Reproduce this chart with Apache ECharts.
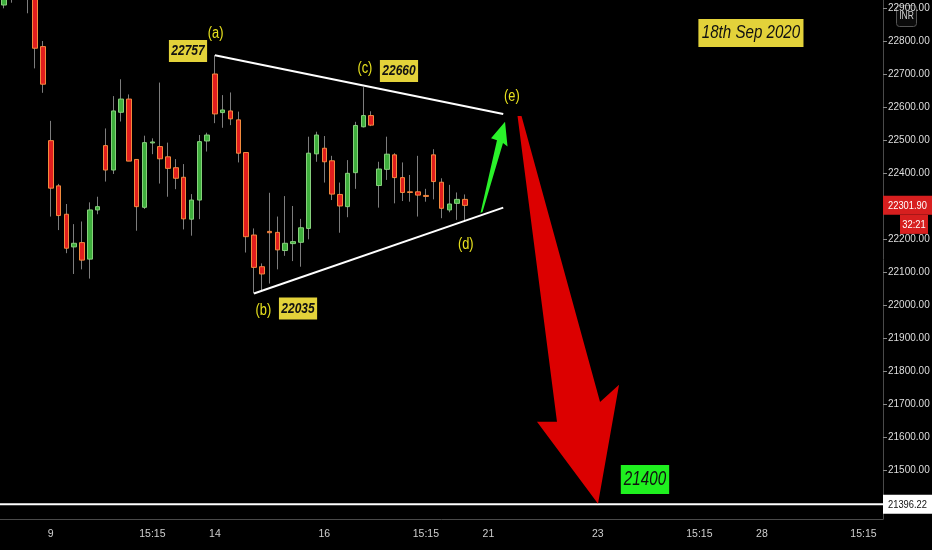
<!DOCTYPE html>
<html><head><meta charset="utf-8">
<script src="https://cdn.jsdelivr.net/npm/echarts@6/dist/echarts.min.js"></script>
<style>html,body{margin:0;padding:0;background:#000}#c{width:932px;height:550px}</style>
</head><body><div id="c"></div>
<script>
// ---- time slots (hourly candles, 7 per session day) ----
const days = ['08','09','10','11','14','15','16','17','18','21','22','23','24','25','28','29','30'];
const sessions = ['09:15','10:15','11:15','12:15','13:15','14:15','15:15'];
const firstSlot = '08 10:15';
const lastSlot = '30 10:15';

// ---- x tick labels ----
const tickSlots = ['09 09:15','10 15:15','14 09:15','16 09:15','17 15:15','21 09:15','23 09:15','24 15:15','28 09:15','29 15:15'];
const tickTexts = ['9','15:15','14','16','15:15','21','23','15:15','28','15:15'];

// ---- price ticks ----
const priceTicks = [21500,21600,21700,21800,21900,22000,22100,22200,22300,22400,22500,22600,22700,22800,22900];

// ---- OHLC (from Sep 8 10:15 to Sep 18 13:15) ----
const opens = [22909,22970,23010,22985,22945,22783,
  22498,22361,22275,22176,22189,22139,22288,
  22483,22409,22584,22624,22441,22296,22491,
  22480,22449,22416,22387,22260,22318,22497,
  22700,22583,22588,22561,22462,22212,22116,
  22223,22220,22165,22186,22190,22232,22458,
  22475,22437,22335,22298,22401,22540,22574,
  22362,22411,22455,22386,22343,22343,22332,
  22455,22372,22288,22308,22320];
const closes = [22970,23010,22985,22945,22778,22669,
  22354,22271,22172,22187,22136,22288,22298,
  22409,22588,22624,22436,22298,22492,22494,
  22443,22414,22384,22261,22318,22495,22515,
  22579,22591,22564,22460,22207,22114,22094,
  22219,22167,22187,22192,22234,22460,22515,
  22434,22336,22300,22399,22544,22574,22545,
  22412,22457,22386,22341,22341,22333,22329,
  22374,22293,22306,22320,22301.9];
const lows = [22899,22916,22950,22884,22717,22643,
  22268,22227,22157,22094,22108,22080,22275,
  22374,22397,22556,22436,22225,22291,22457,
  22368,22328,22351,22229,22210,22260,22465,
  22551,22537,22545,22432,22159,22035,22040,
  22065,22108,22149,22133,22116,22199,22434,
  22371,22318,22219,22266,22352,22538,22542,
  22295,22379,22308,22315,22313,22268,22313,
  22320,22263,22281,22258,22253];
const highs = [22990,23030,23025,23000,22960,22800,
  22558,22367,22306,22245,22253,22311,22328,
  22535,22633,22684,22638,22441,22513,22505,
  22674,22492,22442,22427,22336,22515,22522,
  22757,22636,22644,22586,22462,22232,22126,
  22340,22268,22330,22300,22261,22510,22525,
  22512,22452,22371,22439,22555,22660,22587,
  22434,22510,22460,22432,22394,22452,22352,
  22472,22384,22364,22341,22335];

// ---- drawings (x in slot units, 0 = Sep 9 09:15; y in price) ----
const trendUpper = [[21, 22757], [57.9, 22579]];
const trendLower = [[26, 22035], [57.9, 22295]];
const greenArrow = [[54.99,22279],[57.10,22499],[56.34,22505],[58.13,22555],[58.45,22480],[57.87,22491],[55.25,22282]];
const redArrow = [[59.73,22573],[60.24,22573],[70.29,21706],[72.72,21758],[70.03,21398],[62.22,21646],[64.78,21646]];
const waveNames = ['(a)','(b)','(c)','(d)','(e)'];
const waveAt = [[21.1,22821],[27.2,21982],[40.2,22715],[53.1,22182],[59.0,22633]];
const pivotTexts = ['22757','22035','22660'];
const pivotAt = [[17.56,22770],[31.64,21989],[44.56,22709]];
const dateText = '18th Sep 2020';
const dateAt = [89.6, 22824];
const targetText = '21400';
const targetAt = [76.04, 21471];
const targetLevel = 21396.22;
const lastPrice = 22301.90;
const countdown = '32:21';

// ---- build ----
const allSlots = [];
days.forEach(d => sessions.forEach(s => allSlots.push(d + ' ' + s)));
const categories = allSlots.slice(allSlots.indexOf(firstSlot), allSlots.indexOf(lastSlot) + 1);
const zeroIdx = categories.indexOf('09 09:15');
const xMin = -zeroIdx - 0.5, xMax = categories.length - zeroIdx - 0.5;
const tickMap = {};
tickSlots.forEach((s, i) => tickMap[s] = tickTexts[i]);

const wickData = opens.map((o, i) => [o, closes[i], lows[i], highs[i]]);
const bodyData = opens.map((o, i) => [o, closes[i], Math.min(o, closes[i]), Math.max(o, closes[i])]);

const FONT = "'Liberation Sans', Arial, sans-serif";

const annotations = [];
annotations.push({type: 'poly', pts: greenArrow, color: '#2af12a'});
annotations.push({type: 'poly', pts: redArrow, color: '#dc0000'});
waveNames.forEach((t, i) => annotations.push({type: 'text', text: t, at: waveAt[i], color: '#e8e21e', size: 16, style: 'normal', weight: 'normal', sx: 0.8}));
pivotTexts.forEach((t, i) => annotations.push({type: 'text', text: t, at: pivotAt[i], color: '#111', bg: '#e3d23a', pad: [4, 3, 3, 3], size: 15, style: 'italic', weight: 'bold', sx: 0.8}));
annotations.push({type: 'text', text: dateText, at: dateAt, color: '#111', bg: '#e3d23a', pad: [5, 4, 5, 4], size: 18, style: 'italic', weight: 'normal', sx: 0.84});
annotations.push({type: 'text', text: targetText, at: targetAt, color: '#111', bg: '#1ff01f', pad: [5, 4, 4, 4], size: 20, style: 'italic', weight: 'normal', sx: 0.76});
annotations.push({type: 'tag', text: targetLevel.toFixed(2), p: targetLevel, bg: '#ffffff', color: '#111'});
annotations.push({type: 'tag', text: lastPrice.toFixed(2), p: lastPrice, bg: '#d71f1f', color: '#fff'});
annotations.push({type: 'sub', text: countdown, p: lastPrice, bg: '#d71f1f', color: '#fff'});

function renderItem(params, api) {
  const a = annotations[params.dataIndex];
  if (a.type === 'poly') {
    return {type: 'polygon', shape: {points: a.pts.map(p => api.coord(p))}, style: {fill: a.color}};
  }
  if (a.type === 'text') {
    const c = api.coord(a.at);
    return {type: 'text', x: c[0], y: c[1], scaleX: a.sx, style: {
      text: a.text, fill: a.color, fontSize: a.size, fontFamily: FONT, fontStyle: a.style, fontWeight: a.weight,
      align: 'center', verticalAlign: 'middle', backgroundColor: a.bg || 'transparent', padding: a.pad || 0
    }};
  }
  const c = api.coord([xMax, a.p]);
  if (a.type === 'tag') {
    return {type: 'group', children: [
      {type: 'rect', shape: {x: c[0], y: c[1] - 9.5, width: 932 - c[0], height: 19}, style: {fill: a.bg}},
      {type: 'text', x: c[0] + 5, y: c[1] + 0.5, scaleX: 0.85, style: {text: a.text, fill: a.color, fontSize: 11, fontFamily: FONT, align: 'left', verticalAlign: 'middle'}}
    ]};
  }
  return {type: 'group', children: [
    {type: 'rect', shape: {x: c[0] + 17, y: c[1] + 9.5, width: 28, height: 19}, style: {fill: a.bg}},
    {type: 'text', x: c[0] + 31, y: c[1] + 19.5, scaleX: 0.85, style: {text: a.text, fill: a.color, fontSize: 11, fontFamily: FONT, align: 'center', verticalAlign: 'middle'}}
  ]};
}

const chart = echarts.init(document.getElementById('c'), null, {renderer: 'canvas'});
const showTick = (i, v) => tickMap[v] !== undefined;
chart.setOption({
  backgroundColor: '#000',
  animation: false,
  grid: {left: 0, right: 49, top: 0, bottom: 31, containLabel: false, outerBoundsMode: 'none'},
  xAxis: [{
    type: 'category', data: categories, boundaryGap: true,
    axisLine: {lineStyle: {color: '#4a4a4a', width: 1}},
    axisTick: {interval: showTick, alignWithLabel: true, length: 3, lineStyle: {color: '#6a6a6a'}},
    axisLabel: {interval: showTick, formatter: v => tickMap[v] || '', color: '#cfcfcf', fontSize: 10.5, fontFamily: FONT, margin: 10, hideOverlap: false},
    splitLine: {show: false}
  }, {
    type: 'value', min: xMin, max: xMax, show: false
  }],
  yAxis: {
    type: 'value', position: 'right', min: 21351.5, max: 22924.2,
    axisLine: {show: true, onZero: false, lineStyle: {color: '#4a4a4a'}},
    axisTick: {show: true, customValues: priceTicks, length: 4, lineStyle: {color: '#8a8a8a'}},
    axisLabel: {customValues: priceTicks, formatter: v => Number(v).toFixed(2), color: '#dedede', fontSize: 10, fontFamily: FONT, margin: 5, hideOverlap: false},
    splitLine: {show: false}
  },
  series: [{
    type: 'candlestick', name: 'wick', data: wickData, barWidth: 1, z: 2,
    itemStyle: {color: '#7d7d7d', color0: '#7d7d7d', borderColor: '#7d7d7d', borderColor0: '#7d7d7d', borderWidth: 1}
  }, {
    type: 'candlestick', name: 'body', data: bodyData, barWidth: 5, z: 3,
    itemStyle: {color: '#3eae3c', color0: '#e11d1d', borderColor: '#86d07c', borderColor0: '#f38a3e', borderWidth: 1}
  }, {
    type: 'line', xAxisIndex: 1, data: trendUpper, symbol: 'none', z: 4,
    lineStyle: {color: '#ffffff', width: 2}
  }, {
    type: 'line', xAxisIndex: 1, data: trendLower, symbol: 'none', z: 4,
    lineStyle: {color: '#ffffff', width: 2}
  }, {
    type: 'line', xAxisIndex: 1, data: [[xMin, targetLevel], [xMax, targetLevel]], symbol: 'none', z: 4,
    lineStyle: {color: '#ffffff', width: 2}
  }, {
    type: 'custom', xAxisIndex: 1, clip: false, z: 6,
    renderItem: renderItem,
    data: annotations.map(a => a.at ? a.at : (a.pts ? a.pts[0] : [xMax, a.p]))
  }],
  graphic: [{
    type: 'group', right: 15, top: 5, z: 100, children: [
      {type: 'rect', shape: {x: 0, y: 0, width: 20, height: 21, r: 3}, style: {fill: '#0b0b0b', stroke: '#555', lineWidth: 1}},
      {type: 'text', x: 10, y: 11, scaleX: 0.85, style: {text: 'INR', fill: '#d0d0d0', fontSize: 10, fontFamily: FONT, align: 'center', verticalAlign: 'middle'}}
    ]
  }]
});
</script></body></html>
